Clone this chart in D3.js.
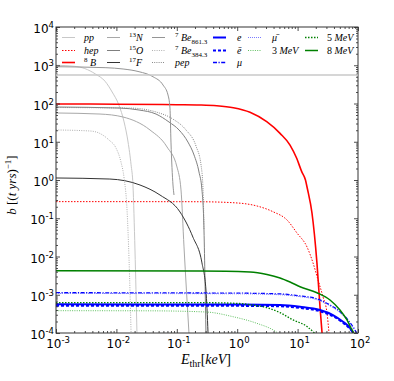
<!DOCTYPE html>
<html>
<head>
<meta charset="utf-8">
<script src="https://cdn.jsdelivr.net/npm/d3@7"></script>
<style>
  body { margin: 0; background: #fff; }
  text { font-family: 'DejaVu Sans', sans-serif; fill: #000; }
  .math { font-family: 'Liberation Serif', 'DejaVu Serif', serif; }
</style>
</head>
<body>
<svg width="394" height="381"></svg>
<script>
// [E_thr in keV, b in (t yrs)^-1]
const ppPoints = [[0.001,1000],[0.002,940],[0.003,820],[0.0045,590],[0.0065,380],[0.0085,200],[0.011,91],[0.0134,33],[0.0156,9.8],[0.0175,2.5],[0.0188,0.74],[0.0203,0.0148],[0.0219,1e-4]];
const hepPoints = [[0.001,0.272],[0.1,0.271],[0.242,0.27],[0.851,0.255],[2.13,0.209],[3.92,0.148],[6.68,0.09],[9.78,0.041],[14.3,0.0178],[18.0,0.0068],[21.8,0.00243],[26.4,8.7e-4],[30.7,3.3e-4],[33.1,1e-4]];
const b8Points = [[0.001,97],[0.01,96],[0.1,93],[0.242,91.4],[0.458,87.6],[0.863,77.6],[1.63,58.9],[3.08,33.4],[5.12,16.6],[7.49,8.2],[9.66,3.69],[11.7,1.65],[13.5,1.0],[14.5,0.6],[17.3,0.137],[20.9,0.0068],[23.5,4.8e-4],[25.4,1e-4]];
const n13Points = [[0.001,56.5],[0.00535,53],[0.01285,44.4],[0.036,20.3],[0.0689,7.3],[0.1007,2.19],[0.1174,0.55],[0.1316,0.0178],[0.159,1e-4]];
const o15Points = [[0.001,81],[0.0115,76],[0.0237,67.6],[0.0453,53],[0.0743,32.8],[0.109,20.3],[0.153,9.8],[0.193,4.5],[0.233,1.62],[0.261,0.55],[0.282,0.049],[0.293,0.0024],[0.304,1e-4]];
const f17Points = [[0.001,1.13],[0.0078,1.06],[0.0246,0.74],[0.0527,0.405],[0.113,0.146],[0.185,0.032],[0.261,0.0068],[0.304,0.00133],[0.329,1e-4]];
const be861Points = [[0.001,916],[0.0067,863],[0.0129,798],[0.0237,678],[0.0404,501],[0.0591,305],[0.0715,167],[0.0771,76],[0.0801,9.8],[0.0865,0.74],[0.0899,0.405]];
const be384Points = [[0.001,20.3],[0.00366,19.1],[0.00515,16.9],[0.00754,11.1],[0.00984,6.87],[0.0119,2.96],[0.0134,1.13],[0.015,0.164],[0.0162,0.0081],[0.0175,1e-4]];
const pepPoints = [[0.001,78.5],[0.0168,76],[0.0453,60],[0.0865,39],[0.142,20.3],[0.208,7.7],[0.252,2.47],[0.272,0.55],[0.282,0.049]];
const ePoints = [[0.001,5.62e-4],[1.11,5.55e-4],[5.12,5.4e-4],[10.96,4.87e-4],[23.5,4.0e-4],[38.5,2.95e-4],[56.5,1.97e-4],[73.8,1.35e-4],[82.6,1e-4]];
const eBarPoints = [[0.001,5.18e-4],[1.11,5.12e-4],[5.12,5.0e-4],[10.96,4.5e-4],[23.5,3.7e-4],[38.5,2.75e-4],[56.5,1.85e-4],[73.8,1.28e-4],[84,1e-4]];
const muPoints = [[0.001,1.13e-3],[1.0,1.1e-3],[5.12,1.05e-3],[10.96,9.3e-4],[20.9,7.8e-4],[34.4,5.4e-4],[50.3,3.6e-4],[68.2,2.19e-4],[89.1,1.2e-4],[95,1e-4]];
const muBarPoints = [[0.001,1.08e-3],[1.0,1.06e-3],[5.12,1.0e-3],[10.96,8.9e-4],[20.9,7.4e-4],[34.4,5.1e-4],[50.3,3.4e-4],[68.2,2.05e-4],[89.1,1.1e-4],[93,1e-4]];
const mev3Points = [[0.001,3.83e-4],[0.036,3.8e-4],[0.304,3.54e-4],[0.851,2.67e-4],[2.05,1.82e-4],[4.39,1.08e-4],[4.7,1e-4]];
const mev5Points = [[0.001,6.2e-4],[0.3,6.2e-4],[1.1,5.9e-4],[2.05,5.2e-4],[3.11,4.6e-4],[5.12,3.4e-4],[8.4,2.2e-4],[14.3,1.48e-4],[19,1e-4]];
const mev8Points = [[0.001,4.26e-3],[0.242,4.2e-3],[1.63,3.95e-3],[3.11,3.4e-3],[5.12,2.75e-3],[7.5,2.15e-3],[10.96,1.62e-3],[20.9,1.13e-3],[34.4,7.3e-4],[50.3,4.0e-4],[65.7,2.19e-4],[79.6,1.2e-4],[85,1e-4]];

const xTickExponents = [-3, -2, -1, 0, 1, 2];
const yTickExponents = [-4, -3, -2, -1, 0, 1, 2, 3, 4];

// legend order is column major
const seriesNames = ['pp','hep','8B','13N','15O','17F','7Be861','7Be384','pep','e','eBar','mu','muBar','3MeV','5MeV','8MeV'];
const seriesPoints = [ppPoints, hepPoints, b8Points, n13Points, o15Points, f17Points, be861Points, be384Points, pepPoints,
  ePoints, eBarPoints, muPoints, muBarPoints, mev3Points, mev5Points, mev8Points];
// label pieces: [text, 'i' italic | 'r' roman | 'sup' | 'sub']
const seriesLabels = [
  [['pp','i']], [['hep','i']], [['8','sup'],[' B','i']],
  [['13','sup'],['N','i']], [['15','sup'],['O','i']], [['17','sup'],['F','i']],
  [['7','sup'],[' Be','i'],['861.3','sub']], [['7','sup'],[' Be','i'],['384.3','sub']], [['pep','i']],
  [['e','i']], [['\u0113','i']], [['\u03bc','i']],
  [['\u03bc\u0304','i']], [['3 ','r'],['MeV','i']], [['5 ','r'],['MeV','i']], [['8 ','r'],['MeV','i']]
];
const legendColumnSizes = [3, 3, 3, 3, 2, 2];

const styles = {
  'pp':     { color: '#c8c8c8', width: 1, dash: null },
  'hep':    { color: '#ff0000', width: 1, dash: '1.5,1.5' },
  '8B':     { color: '#ff0000', width: 1.6, dash: null },
  '13N':    { color: '#a8a8a8', width: 1, dash: null },
  '15O':    { color: '#7f7f7f', width: 1, dash: null },
  '17F':    { color: '#333333', width: 1, dash: null },
  '7Be861': { color: '#959595', width: 1, dash: null },
  '7Be384': { color: '#b0b0b0', width: 1, dash: '1,1.3' },
  'pep':    { color: '#8a8a8a', width: 1, dash: '1,1.2' },
  'e':      { color: '#0000ff', width: 2, dash: null },
  'eBar':   { color: '#0000ff', width: 2, dash: '3,2' },
  'mu':     { color: '#0000ff', width: 1.3, dash: '4,1.5,1.2,1.5' },
  'muBar':  { color: '#7b7bff', width: 1, dash: '1,1' },
  '3MeV':   { color: '#5fbf5f', width: 1, dash: '1,1.3' },
  '5MeV':   { color: '#008000', width: 1.3, dash: '1.5,1.5' },
  '8MeV':   { color: '#008000', width: 1.5, dash: null }
};

renderChart();

function renderChart() {
  const svg = d3.select('svg');
  const svgWidth = +svg.attr('width');
  const svgHeight = +svg.attr('height');
  const margin = { top: 27, bottom: 48, right: 36, left: 56 };
  const innerWidth = svgWidth - (margin.left + margin.right);
  const innerHeight = svgHeight - (margin.top + margin.bottom);

  const xScale = d3.scaleLog().domain([1e-3, 1e2]).range([0, innerWidth]);
  const yScale = d3.scaleLog().domain([1e-4, 1e4]).range([innerHeight, 0]);

  const vis = svg.append('g')
    .attr('transform', `translate(${margin.left}, ${margin.top})`);

  vis.append('clipPath').attr('id', 'plot-clip')
    .append('rect').attr('width', innerWidth).attr('height', innerHeight);

  // curves
  const line = d3.line()
    .x(d => xScale(d[0]))
    .y(d => yScale(d[1]))
    .curve(d3.curveMonotoneX);
  const curves = vis.append('g').attr('clip-path', 'url(#plot-clip)');
  seriesNames.forEach((name, i) => {
    const s = styles[name];
    curves.append('path')
      .attr('d', line(seriesPoints[i]))
      .attr('fill', 'none')
      .attr('stroke', s.color)
      .attr('stroke-width', s.width)
      .attr('stroke-dasharray', s.dash);
  });

  // ticks on all four sides, pointing in
  const xMajor = xTickExponents.map(e => Math.pow(10, e));
  const yMajor = yTickExponents.map(e => Math.pow(10, e));
  const xMinor = xScale.ticks().filter(v => !xMajor.some(m => Math.abs(m - v) / m < 1e-6));
  const yMinor = yScale.ticks().filter(v => !yMajor.some(m => Math.abs(m - v) / m < 1e-6));

  const addAxis = (axis, transform) => {
    const g = vis.append('g').attr('transform', transform).call(axis);
    g.select('.domain').remove();
    g.selectAll('text').remove();
    g.selectAll('line').attr('stroke', '#222').attr('stroke-width', 0.8);
  };
  [[xMajor, 4], [xMinor, 2]].forEach(([vals, len]) => {
    addAxis(d3.axisBottom(xScale).tickValues(vals).tickSize(-len), `translate(0, ${innerHeight})`);
    addAxis(d3.axisTop(xScale).tickValues(vals).tickSize(-len), 'translate(0, 0)');
  });
  [[yMajor, 4], [yMinor, 2]].forEach(([vals, len]) => {
    addAxis(d3.axisLeft(yScale).tickValues(vals).tickSize(-len), 'translate(0, 0)');
    addAxis(d3.axisRight(yScale).tickValues(vals).tickSize(-len), `translate(${innerWidth}, 0)`);
  });

  vis.append('rect')
    .attr('width', innerWidth).attr('height', innerHeight)
    .attr('fill', 'none').attr('stroke', '#333').attr('stroke-width', 1);

  // tick labels 10^n
  xTickExponents.forEach(e => {
    const t = vis.append('text')
      .attr('x', xScale(Math.pow(10, e)) + 2)
      .attr('y', innerHeight + 15)
      .attr('text-anchor', 'middle')
      .style('font-size', '12px');
    t.append('tspan').text('10');
    t.append('tspan').attr('dy', -5).style('font-size', '8.5px').text(e);
  });
  yTickExponents.forEach(e => {
    const t = vis.append('text')
      .attr('x', -2)
      .attr('y', yScale(Math.pow(10, e)) + 6)
      .attr('text-anchor', 'end')
      .style('font-size', '12px');
    t.append('tspan').text('10');
    t.append('tspan').attr('dy', -5).style('font-size', '8.5px').text(e);
  });

  // axis titles
  const xTitle = vis.append('text')
    .attr('class', 'math')
    .attr('x', 150).attr('y', innerHeight + 31)
    .attr('text-anchor', 'middle')
    .style('font-size', '14px');
  xTitle.append('tspan').style('font-style', 'italic').text('E');
  xTitle.append('tspan').attr('dy', 3).style('font-size', '10px').text('thr');
  xTitle.append('tspan').attr('dy', -3).text('[');
  xTitle.append('tspan').style('font-style', 'italic').text('keV');
  xTitle.append('tspan').text(']');

  const yTitle = vis.append('text')
    .attr('class', 'math')
    .attr('transform', `translate(${-40}, ${innerHeight / 2 + 5}) rotate(-90)`)
    .attr('text-anchor', 'middle')
    .style('font-size', '13px');
  yTitle.append('tspan').style('font-style', 'italic').text('b ');
  yTitle.append('tspan').text('[(');
  yTitle.append('tspan').style('font-style', 'italic').text('t yrs');
  yTitle.append('tspan').text(')');
  yTitle.append('tspan').attr('dy', -5).style('font-size', '9px').text('\u22121');
  yTitle.append('tspan').attr('dy', 5).text(']');

  // legend
  vis.append('line')
    .attr('x1', 0).attr('x2', innerWidth)
    .attr('y1', 48).attr('y2', 48)
    .attr('stroke', '#c8c8c8').attr('stroke-width', 1.5);
  const colLineX = [6, 51, 96, 157, 192, 249];
  const colTextX = [28, 73, 119, 181, 216, 271];
  const rowY = [10.5, 23.5, 35.5];
  const slots = [];
  legendColumnSizes.forEach((size, col) => d3.range(size).forEach(row => slots.push({ col, row })));
  const legend = vis.append('g');
  seriesNames.forEach((name, i) => {
    const { col, row } = slots[i];
    const s = styles[name];
    legend.append('line')
      .attr('x1', colLineX[col]).attr('x2', colLineX[col] + 13)
      .attr('y1', rowY[row]).attr('y2', rowY[row])
      .attr('stroke', s.color)
      .attr('stroke-width', s.width)
      .attr('stroke-dasharray', s.dash);
    const t = legend.append('text')
      .attr('class', 'math')
      .attr('x', colTextX[col])
      .attr('y', rowY[row] + 3.5)
      .style('font-size', '10px');
    let shift = 0;
    seriesLabels[i].forEach(([txt, mode]) => {
      const target = mode === 'sup' ? -4 : mode === 'sub' ? 2.5 : 0;
      t.append('tspan')
        .attr('dy', target - shift)
        .style('font-size', mode === 'sup' || mode === 'sub' ? '7px' : '10px')
        .style('font-style', mode === 'i' ? 'italic' : 'normal')
        .text(txt);
      shift = target;
    });
  });
}
</script>
</body>
</html>
